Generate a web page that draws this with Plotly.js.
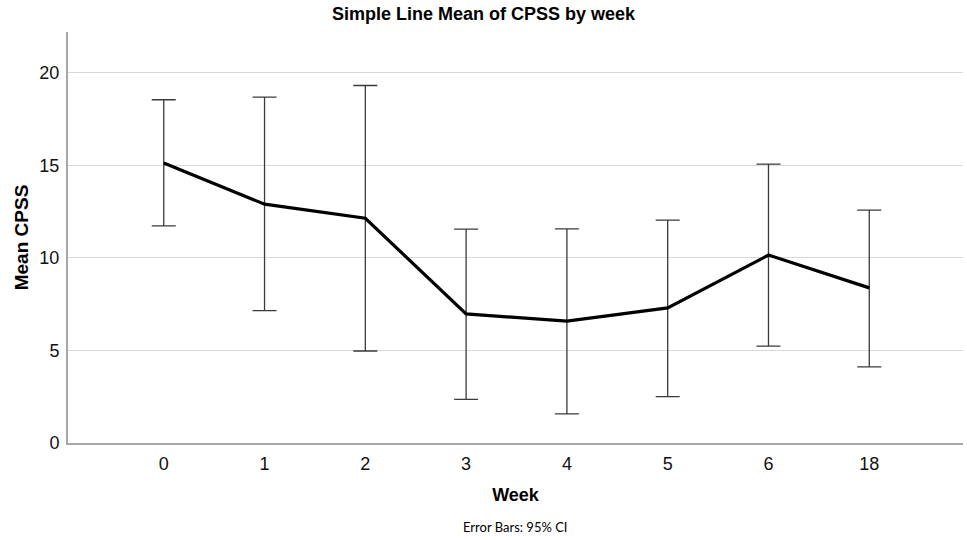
<!DOCTYPE html>
<html>
<head>
<meta charset="utf-8">
<script src="https://cdn.plot.ly/plotly-3.0.1.min.js"></script>
<style>html,body{margin:0;padding:0;background:#fff;}#chart{width:967px;height:540px;}</style>
</head>
<body>
<div id="chart"></div>
<script>
const weeks = ["0", "1", "2", "3", "4", "5", "6", "18"];
const meanCPSS = [15.12, 12.90, 12.14, 6.97, 6.58, 7.30, 10.15, 8.38];
const upperCI = [18.54, 18.68, 19.31, 11.55, 11.57, 12.04, 15.06, 12.58];
const lowerCI = [11.73, 7.15, 4.97, 2.36, 1.57, 2.50, 5.23, 4.11];

const errPlus = meanCPSS.map((m, i) => upperCI[i] - m);
const errMinus = meanCPSS.map((m, i) => m - lowerCI[i]);

const trace = {
  type: 'scatter',
  mode: 'lines',
  x: weeks,
  y: meanCPSS,
  line: {color: '#000000', width: 3.2},
  error_y: {
    type: 'data',
    symmetric: false,
    array: errPlus,
    arrayminus: errMinus,
    color: '#3a3a3a',
    thickness: 1.3,
    width: 12
  },
  hoverinfo: 'skip'
};

const layout = {
  width: 967,
  height: 540,
  margin: {l: 68, r: 4, t: 32, b: 97},
  paper_bgcolor: '#ffffff',
  plot_bgcolor: '#ffffff',
  showlegend: false,
  font: {family: 'Liberation Sans, Arial, sans-serif', color: '#000000'},
  title: {
    text: '<b>Simple Line Mean of CPSS by week</b>',
    font: {family: 'Liberation Sans, Arial, sans-serif', size: 18, color: '#000000'},
    x: 0.5, xref: 'container', xanchor: 'center',
    y: 1, yref: 'container', yanchor: 'top', pad: {t: 7}
  },
  xaxis: {
    type: 'category',
    range: [-0.95, 7.93],
    showgrid: false,
    zeroline: false,
    showline: true,
    linecolor: '#a6a6a6',
    linewidth: 2,
    ticks: '',
    ticklabelstandoff: 3,
    tickfont: {size: 18, color: '#111111'},
    title: {text: '<b>Week</b>', font: {size: 18, color: '#000000'}, standoff: 16},
    fixedrange: true
  },
  yaxis: {
    range: [0, 22.2],
    tickvals: [0, 5, 10, 15, 20],
    showgrid: true,
    gridcolor: '#d9d9d9',
    gridwidth: 1.2,
    zeroline: false,
    showline: true,
    linecolor: '#a6a6a6',
    linewidth: 2,
    ticks: '',
    ticklabelstandoff: 3,
    tickfont: {size: 18, color: '#111111'},
    title: {text: '<b>Mean CPSS</b>', font: {size: 19, color: '#000000'}, standoff: 6},
    fixedrange: true
  },
  annotations: [{
    text: 'Error Bars: 95% CI',
    xref: 'paper', yref: 'paper',
    x: 0.5, y: -0.18,
    xanchor: 'center', yanchor: 'top',
    showarrow: false,
    font: {family: 'Lato, Open Sans, sans-serif', size: 13, color: '#000000'}
  }]
};

Plotly.newPlot('chart', [trace], layout, {displayModeBar: false, staticPlot: true});
</script>
</body>
</html>
